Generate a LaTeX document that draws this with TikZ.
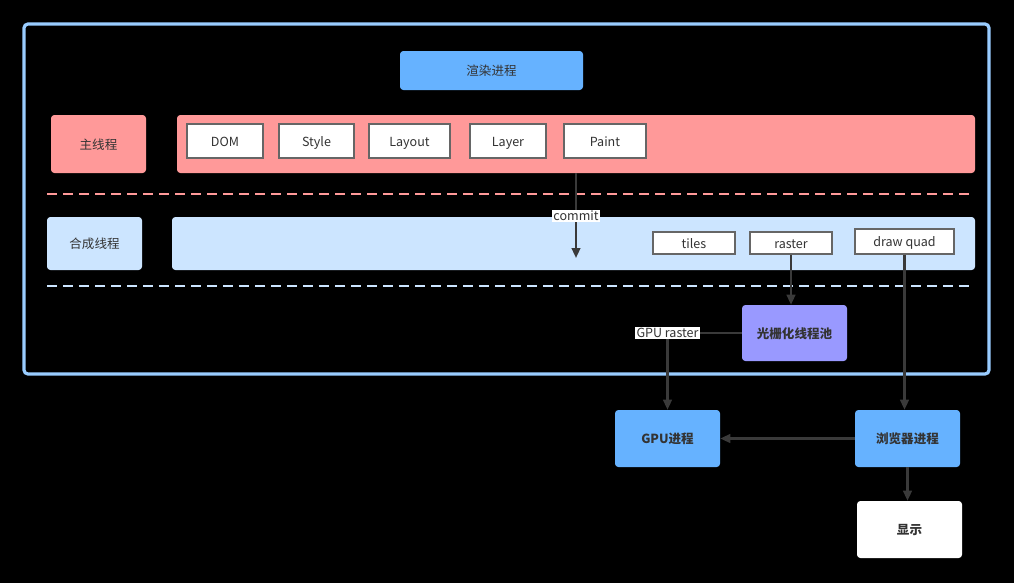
\documentclass[tikz,border=0pt]{standalone}
\usepackage{fontspec}
\setmainfont{Noto Sans CJK SC}
\usetikzlibrary{arrows.meta}
\definecolor{frameblue}{HTML}{99CCFF}
\definecolor{procblue}{HTML}{66B2FF}
\definecolor{pinkc}{HTML}{FF9999}
\definecolor{lightb}{HTML}{CCE5FF}
\definecolor{violetc}{HTML}{9999FF}
\definecolor{txt}{HTML}{333333}
\definecolor{arr}{HTML}{3A3A3A}
\newcommand\fsz{\fontsize{9.4}{11}\selectfont}
\tikzset{
  base/.style={rectangle, rounded corners=2.5pt, inner sep=0pt, text=txt, font=\fsz, text height=1.4ex, text depth=0pt},
  proc/.style={base, fill=procblue},
  pinkbox/.style={base, fill=pinkc},
  lbbox/.style={base, fill=lightb},
  stepbox/.style={rectangle, draw=black!60, line width=0.8pt, fill=white, inner sep=0pt, text=txt, font=\fsz, text height=1.4ex, text depth=0pt},
  conn/.style={draw=arr, line width=1.6pt, -{Triangle[length=7.5pt,width=6.5pt]}},
  lab/.style={fill=white, text=txt, inner sep=0.8pt, font=\fsz},
}
\begin{document}
\begin{tikzpicture}[x=0.75pt,y=-0.75pt]
\fill[black] (0,0) rectangle (1014,583);
\useasboundingbox (0,0) rectangle (1014,583);
% outer frame
\draw[frameblue, line width=2.4pt, rounded corners=3pt] (24,24) rectangle (989,374);
% renderer title
\node[proc, minimum width=137.25pt, minimum height=29.25pt] (render) at (491.5,70.5) {渲染进程};
% main thread
\node[pinkbox, minimum width=71.25pt, minimum height=43.5pt] (main) at (98.5,144) {主线程};
\node[pinkbox, minimum width=598.5pt, minimum height=43.5pt] (mainbar) at (576,144) {};
\node[stepbox, minimum width=57pt, minimum height=25.5pt] (dom) at (225,141) {DOM};
\node[stepbox, minimum width=56.25pt, minimum height=25.5pt] (style) at (316.5,141) {Style};
\node[stepbox, minimum width=60.75pt, minimum height=25.5pt] (layout) at (409.5,141) {Layout};
\node[stepbox, minimum width=57pt, minimum height=25.5pt] (layer) at (508,141) {Layer};
\node[stepbox, minimum width=61.5pt, minimum height=25.5pt] (paint) at (605,141) {Paint};
% dashed separators
\draw[pinkc, line width=2.2pt, dash pattern=on 7.5pt off 4.5pt] (47,194) -- (970,194);
\draw[lightb, line width=2.2pt, dash pattern=on 7.5pt off 4.5pt] (47,286) -- (970,286);
% compositor thread
\node[lbbox, minimum width=71.25pt, minimum height=39.75pt] (comp) at (94.5,243.5) {合成线程};
\node[lbbox, minimum width=602.25pt, minimum height=39.75pt] (compbar) at (573.5,243.5) {};
\node[stepbox, minimum width=61.5pt, minimum height=16.5pt] (tiles) at (694,243) {tiles};
\node[stepbox, minimum width=61.5pt, minimum height=16.5pt] (raster) at (791,243) {raster};
\node[stepbox, minimum width=74.25pt, minimum height=18.75pt] (quad) at (904.5,241.5) {draw quad};
% raster pool
\node[base, fill=violetc, minimum width=78.75pt, minimum height=42pt, font=\fsz\bfseries] (pool) at (794.5,333) {光栅化线程池};
% processes
\node[proc, minimum width=78.75pt, minimum height=42.75pt, font=\fsz\bfseries] (gpu) at (667.5,438.5) {GPU进程};
\node[proc, minimum width=78.75pt, minimum height=42.75pt, font=\fsz\bfseries] (browser) at (907.5,438.5) {浏览器进程};
\node[base, fill=white, minimum width=78.75pt, minimum height=42.75pt, font=\fsz\bfseries] (display) at (909.5,529.5) {显示};
% connectors
\coordinate (commitend) at (576,258);
\draw[conn] (mainbar.south) -- node[lab, pos=0.5] {commit} (commitend);
\draw[conn] (raster.south) -- (raster.south |- pool.north);
\draw[conn] (pool.west) -| node[lab, pos=0.5] {GPU raster} (gpu.north);
\draw[conn] (quad.south) -- (quad.south |- browser.north);
\draw[conn] (browser.west) -- (gpu.east);
\draw[conn] (browser.south) -- (browser.south |- display.north);
\end{tikzpicture}
\end{document}
